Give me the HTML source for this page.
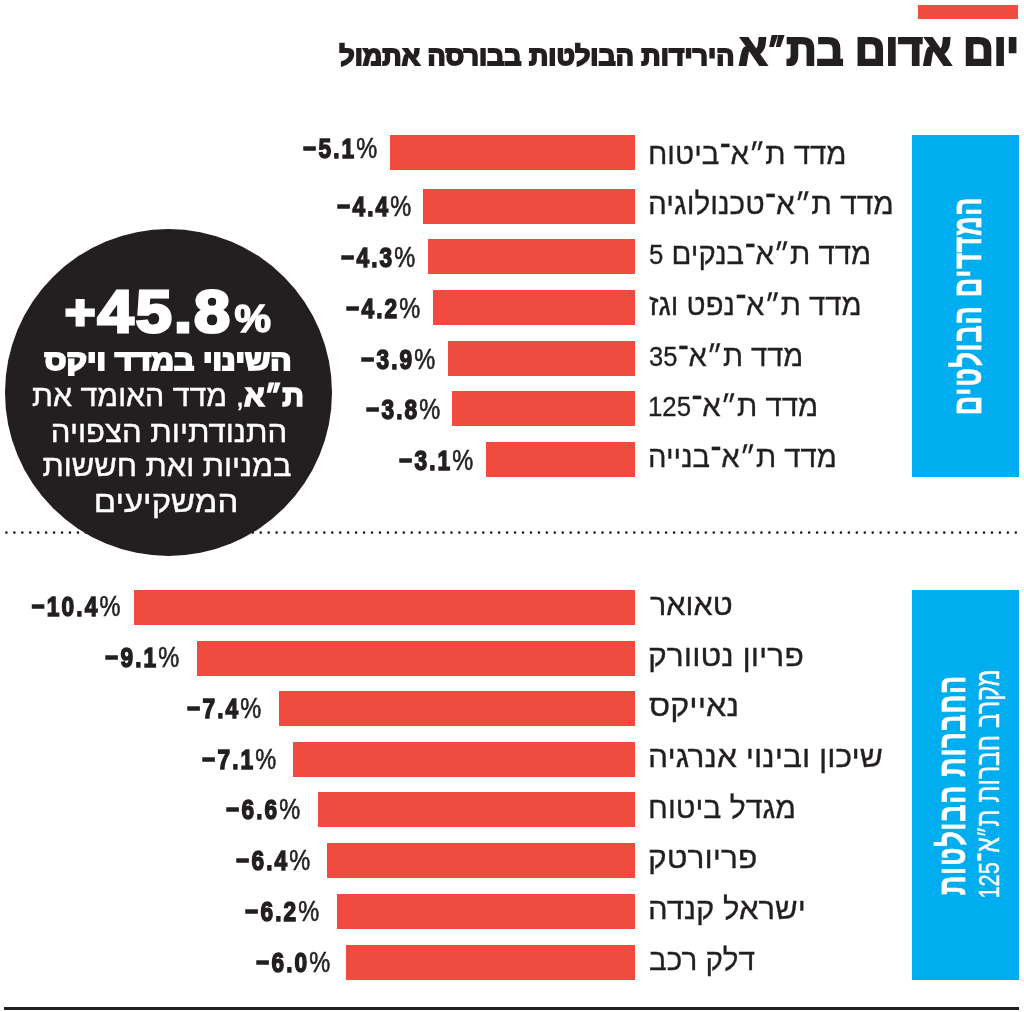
<!DOCTYPE html>
<html lang="he"><head><meta charset="utf-8"><title>יום אדום בת״א</title>
<style>
html,body{margin:0;padding:0;background:#fff}
body{width:1024px;height:1012px;position:relative;overflow:hidden;font-family:"Liberation Sans",sans-serif;color:#231f20}
.abs{position:absolute;white-space:nowrap}
.d{font-size:.88em}
.g{font-size:.72em;vertical-align:.09em;line-height:0}
.g2{font-size:.92em;vertical-align:-.01em;line-height:0}
.bar{position:absolute;background:#ef4b3f;height:35px}
.lab{position:absolute;white-space:nowrap;direction:rtl;left:647.5px;font-size:30.6px;line-height:30.6px;transform-origin:0 50%;transform:scaleX(0.983);-webkit-text-stroke:0.3px #231f20}
.val{position:absolute;white-space:nowrap;direction:ltr;font-weight:bold;letter-spacing:2.6px;font-size:27.9px;line-height:27.9px;transform-origin:100% 50%;transform:scaleX(0.813);-webkit-text-stroke:1.5px #231f20}
.val i{font-style:normal;font-weight:normal;-webkit-text-stroke:.6px #231f20;font-size:1.04em;letter-spacing:0}
.box{position:absolute;background:#00aeef;left:912px;width:107px}
.vt{position:absolute;white-space:nowrap;direction:rtl;color:#fff;transform-origin:50% 50%}
.ct{position:absolute;white-space:nowrap;direction:rtl;color:#fff}
</style></head><body>

<div class="abs" style="left:918px;top:5px;width:100px;height:14px;background:#ef4b3f"></div>
<div class="abs" dir="rtl" style="right:4.5px;top:27.564px;font-weight:bold;font-size:43.9px;line-height:43.9px;transform-origin:100% 50%;transform:scaleX(0.961);-webkit-text-stroke:2.2px #231f20;">יום אדום בת<span class="g">״</span>א</div>
<div class="abs" dir="rtl" style="right:290px;top:42.916px;font-weight:bold;font-size:26.6px;line-height:26.6px;transform-origin:100% 50%;transform:scaleX(1.012);-webkit-text-stroke:1.8px #231f20;">הירידות הבולטות בבורסה אתמול</div>
<div class="bar" style="left:389.5px;top:135px;width:245.5px"></div>
<div class="lab" style="left:648.38px;top:137.806px;transform:scaleX(0.9599)">מדד ת<span class="g2">״</span>א־ביטוח</div>
<div class="val" style="right:646.5px;top:135.086px">−5.1<i>%</i></div>
<div class="bar" style="left:423.25px;top:188.75px;width:211.75px"></div>
<div class="lab" style="left:648.35px;top:187.806px;transform:scaleX(0.9742)">מדד ת<span class="g2">״</span>א־טכנולוגיה</div>
<div class="val" style="right:612.25px;top:193.336px">−4.4<i>%</i></div>
<div class="bar" style="left:428px;top:239.25px;width:207px"></div>
<div class="lab" style="left:649.34px;top:238.306px;transform:scaleX(0.9592)">מדד ת<span class="g2">״</span>א־בנקים <span class="d">5</span></div>
<div class="val" style="right:608.25px;top:244.086px">−4.3<i>%</i></div>
<div class="bar" style="left:433px;top:290px;width:202px"></div>
<div class="lab" style="left:649.34px;top:288.806px;transform:scaleX(0.9562)">מדד ת<span class="g2">״</span>א־נפט וגז</div>
<div class="val" style="right:604px;top:295.086px">−4.2<i>%</i></div>
<div class="bar" style="left:447.5px;top:340.5px;width:187.5px"></div>
<div class="lab" style="left:649.35px;top:339.556px;transform:scaleX(0.9494)">מדד ת<span class="g2">״</span>א־<span class="d">35</span></div>
<div class="val" style="right:588.5px;top:345.836px">−3.9<i>%</i></div>
<div class="bar" style="left:452.25px;top:391.25px;width:182.75px"></div>
<div class="lab" style="left:648.38px;top:390.306px;transform:scaleX(0.9592)">מדד ת<span class="g2">״</span>א־<span class="d">125</span></div>
<div class="val" style="right:584px;top:396.336px">−3.8<i>%</i></div>
<div class="bar" style="left:486.25px;top:442px;width:148.75px"></div>
<div class="lab" style="left:648.39px;top:441.056px;transform:scaleX(0.9570)">מדד ת<span class="g2">״</span>א־בנייה</div>
<div class="val" style="right:550.25px;top:447.086px">−3.1<i>%</i></div>
<svg class="abs" style="left:0;top:530px" width="1024" height="6"><line x1="6.4" y1="2.6" x2="1016" y2="2.6" stroke="#231f20" stroke-width="2.6" stroke-dasharray="0.01 7.938" stroke-linecap="round"/></svg>
<div class="bar" style="left:134.25px;top:589.5px;width:500.75px"></div>
<div class="lab" style="left:650.3px;top:589.056px;transform:scaleX(0.9994)">טאואר</div>
<div class="val" style="right:904px;top:593.086px">−10.4<i>%</i></div>
<div class="bar" style="left:197px;top:640.5px;width:438px"></div>
<div class="lab" style="left:648.22px;top:639.806px;transform:scaleX(1.0425)">פריון נטוורק</div>
<div class="val" style="right:844.5px;top:644.336px">−9.1<i>%</i></div>
<div class="bar" style="left:278.75px;top:691.25px;width:356.25px"></div>
<div class="lab" style="left:649.24px;top:690.306px;transform:scaleX(1.0573)">נאייקס</div>
<div class="val" style="right:762.75px;top:695.086px">−7.4<i>%</i></div>
<div class="bar" style="left:293px;top:741.75px;width:342px"></div>
<div class="lab" style="left:648.22px;top:740.806px;transform:scaleX(1.0390)">שיכון ובינוי אנרגיה</div>
<div class="val" style="right:747.75px;top:745.836px">−7.1<i>%</i></div>
<div class="bar" style="left:317.5px;top:792.25px;width:317.5px"></div>
<div class="lab" style="left:648.33px;top:791.556px;transform:scaleX(0.9870)">מגדל ביטוח</div>
<div class="val" style="right:724px;top:796.336px">−6.6<i>%</i></div>
<div class="bar" style="left:327px;top:843.25px;width:308px"></div>
<div class="lab" style="left:648.22px;top:842.306px;transform:scaleX(1.0387)">פריורטק</div>
<div class="val" style="right:714px;top:847.086px">−6.4<i>%</i></div>
<div class="bar" style="left:336.5px;top:893.5px;width:298.5px"></div>
<div class="lab" style="left:648.27px;top:892.806px;transform:scaleX(1.0162)">ישראל קנדה</div>
<div class="val" style="right:704.75px;top:897.586px">−6.2<i>%</i></div>
<div class="bar" style="left:346.25px;top:944.5px;width:288.75px"></div>
<div class="lab" style="left:649.33px;top:943.806px;transform:scaleX(0.9694)">דלק רכב</div>
<div class="val" style="right:693.5px;top:948.586px">−6.0<i>%</i></div>
<div class="box" style="top:135px;height:342px"></div>
<div class="box" style="top:589.5px;height:390px"></div>
<div class="vt" style="left:966.6px;top:306px;font-size:40px;line-height:40px;font-weight:bold;transform:translate(-50%,-50%) rotate(-90deg) scaleX(0.677);-webkit-text-stroke:0.7px #fff;letter-spacing:1px;">המדדים הבולטים</div>
<div class="vt" style="left:951.6px;top:785.2px;font-size:38.6px;line-height:38.6px;font-weight:bold;transform:translate(-50%,-50%) rotate(-90deg) scaleX(0.7);-webkit-text-stroke:0.7px #fff;letter-spacing:1px;">החברות הבולטות</div>
<div class="vt" style="left:989.4px;top:783.5px;font-size:32.8px;line-height:32.8px;font-weight:normal;transform:translate(-50%,-50%) rotate(-90deg) scaleX(0.753);-webkit-text-stroke:0.4px #fff;">מקרב חברות ת<span class="g">״</span>א־<span class="d">125</span></div>
<div class="abs" style="left:4.8px;top:228.7px;width:327.4px;height:327.4px;border-radius:50%;background:#231f20"></div>
<div class="ct" style="direction:ltr;left:168px;top:282.4px;font-weight:bold;font-size:60px;line-height:60px;letter-spacing:2px;transform:translateX(-50%) scaleX(1.08);-webkit-text-stroke:3px #fff;"><span style="font-size:.8em;vertical-align:.07em">+</span>45.8<span style="font-size:38px;-webkit-text-stroke:1.5px #fff;margin-left:2px;letter-spacing:0">%</span></div>
<div class="ct" style="left:167.6px;top:346.604px;font-size:27.9px;line-height:27.9px;font-weight:bold;transform:translateX(-50%) scaleX(1.127);-webkit-text-stroke:2px #fff;">השינוי במדד ויקס</div>
<div class="ct" style="left:167.7px;top:380.552px;font-size:30.2px;line-height:30.2px;font-weight:normal;transform:translateX(-50%) scaleX(1.005);-webkit-text-stroke:0.4px #fff;"><b style="-webkit-text-stroke:1.6px #fff">ת<span class="g2">״</span>א</b>, מדד האומד את</div>
<div class="ct" style="left:168.5px;top:416.652px;font-size:30.2px;line-height:30.2px;font-weight:normal;transform:translateX(-50%) scaleX(1.03);-webkit-text-stroke:0.4px #fff;">התנודתיות הצפויה</div>
<div class="ct" style="left:167.3px;top:451.152px;font-size:30.2px;line-height:30.2px;font-weight:normal;transform:translateX(-50%) scaleX(1.02);-webkit-text-stroke:0.4px #fff;">במניות ואת חששות</div>
<div class="ct" style="left:166.3px;top:486.552px;font-size:30.2px;line-height:30.2px;font-weight:normal;transform:translateX(-50%) scaleX(1.09);-webkit-text-stroke:0.4px #fff;">המשקיעים</div>
<div class="abs" style="left:3.7px;top:1007px;width:1015.3px;height:2.6px;background:#231f20"></div>
</body></html>
